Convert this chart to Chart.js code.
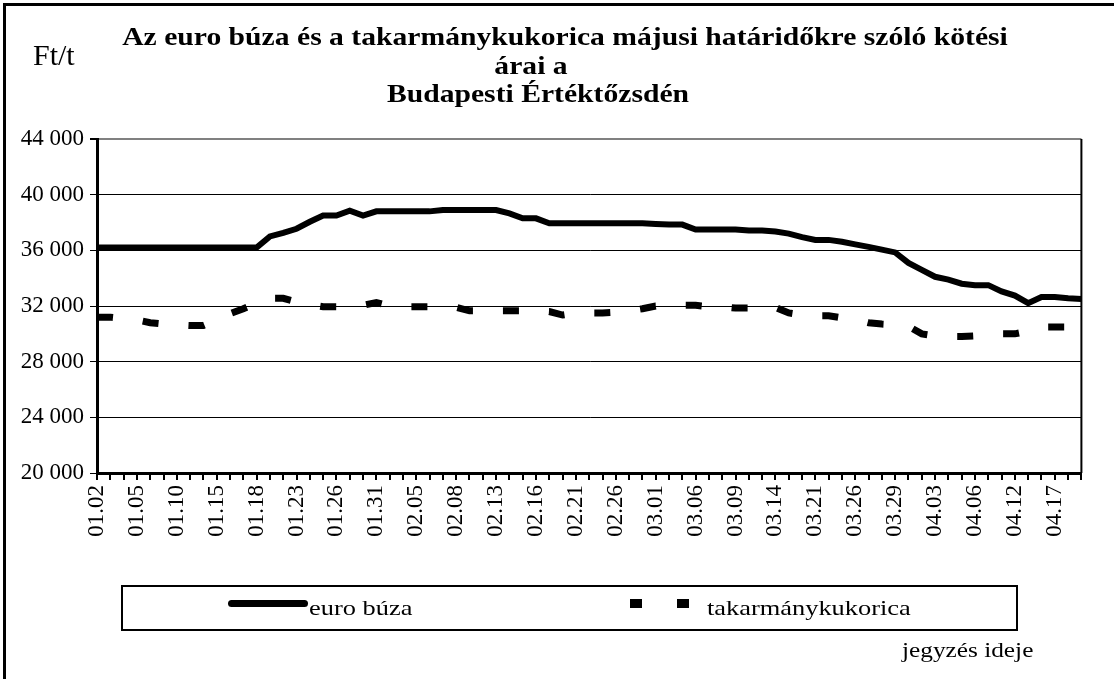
<!DOCTYPE html>
<html lang="hu">
<head>
<meta charset="utf-8">
<title>Euro búza és takarmánykukorica</title>
<script src="https://cdn.jsdelivr.net/npm/chart.js@4.4.1/dist/chart.umd.min.js"></script>
<style>
  html, body { margin: 0; padding: 0; background: #fff; }
  body { width: 1114px; height: 679px; position: relative; overflow: hidden; font-family: "Liberation Serif", "Times New Roman", serif; color: #000; }
  #keret { position: absolute; left: 3px; top: 3px; width: 1200px; height: 800px; border-left: 3px solid #000; border-top: 3px solid #000; }
  #grafikon { position: absolute; left: 0; top: 0; }
  .szoveg { position: absolute; white-space: nowrap; }
  .cimsor { position: absolute; width: 1000px; text-align: center; font-weight: bold; font-size: 26px; line-height: 28px; transform: scaleX(1.14); white-space: nowrap; }
  #egyseg { left: 33px; top: 38px; font-size: 30px; line-height: 34px; }
  #jelmagyarazat { position: absolute; left: 121px; top: 585px; width: 893px; height: 42px; border: 2px solid #000; }
  .minta { position: absolute; background: #000; }
  .felirat { position: absolute; top: 8px; font-size: 22px; line-height: 26px; transform: scaleX(1.2); transform-origin: left center; }
  #ido { left: 902px; top: 637px; font-size: 22px; line-height: 26px; transform: scaleX(1.15); transform-origin: left center; }
</style>
</head>
<body>
<div id="keret"></div>
<canvas id="grafikon" width="1114" height="679"></canvas>
<div id="cim"></div>
<div class="szoveg" id="egyseg">Ft/t</div>
<div id="jelmagyarazat"></div>
<div class="szoveg" id="ido">jegyzés ideje</div>

<script>
// Adatok
const cimSorok = [
  "Az euro búza és a takarmánykukorica májusi határidőkre szóló kötési",
  "árai a",
  "Budapesti Értéktőzsdén"
];
const cimKozepek = [565, 531, 538]; // az egyes sorok közepe (px)

const sorozatNevek = ["euro búza", "takarmánykukorica"];

const datumok = [
  "01.02", "01.03", "01.04", "01.05", "01.08", "01.09", "01.10", "01.11", "01.12", "01.15",
  "01.16", "01.17", "01.18", "01.19", "01.22", "01.23", "01.24", "01.25", "01.26", "01.29",
  "01.30", "01.31", "02.01", "02.02", "02.05", "02.06", "02.07", "02.08", "02.09", "02.12",
  "02.13", "02.14", "02.15", "02.16", "02.19", "02.20", "02.21", "02.22", "02.23", "02.26",
  "02.27", "02.28", "03.01", "03.02", "03.05", "03.06", "03.07", "03.08", "03.09", "03.12",
  "03.13", "03.14", "03.19", "03.20", "03.21", "03.22", "03.23", "03.26", "03.27", "03.28",
  "03.29", "03.30", "04.02", "04.03", "04.04", "04.05", "04.06", "04.09", "04.11", "04.12",
  "04.13", "04.16", "04.17", "04.18", "04.19"
];

const euroBuza = [
  36200, 36200, 36200, 36200, 36200, 36200, 36200, 36200, 36200, 36200,
  36200, 36200, 36200, 37000, 37250, 37550, 38050, 38500, 38500, 38850,
  38500, 38800, 38800, 38800, 38800, 38800, 38900, 38900, 38900, 38900,
  38900, 38650, 38300, 38300, 37950, 37950, 37950, 37950, 37950, 37950,
  37950, 37950, 37900, 37850, 37850, 37500, 37500, 37500, 37500, 37420,
  37420, 37350, 37200, 36950, 36750, 36750, 36620, 36430, 36250, 36050,
  35850, 35100, 34600, 34100, 33900, 33600, 33500, 33500, 33050, 32750,
  32200, 32650, 32650, 32550, 32500
];

const takarmanyKukorica = [
  31200, 31200, 31100, 31000, 30800, 30700, 30650, 30600, 30600, 31000,
  31450, 31800, 32200, 32550, 32550, 32300, 32100, 31950, 31950, 32000,
  32050, 32250, 32000, 31950, 31950, 31950, 31950, 31900, 31650, 31650,
  31650, 31650, 31650, 31650, 31600, 31350, 31500, 31500, 31500, 31550,
  31650, 31800, 32000, 32050, 32050, 32050, 31950, 31950, 31850, 31850,
  31900, 31900, 31500, 31350, 31300, 31300, 31150, 31050, 30800, 30700,
  30650, 30550, 30000, 29850, 29800, 29800, 29850, 29950, 30000, 30000,
  30200, 30500, 30500, 30500, 30500
];

const yMin = 20000;
const yMax = 44000;
const yLepes = 4000;
const cimkeLepes = 3; // minden harmadik dátum látszik

// Cím, soronként
const cimDiv = document.getElementById("cim");
cimSorok.forEach((sor, i) => {
  const d = document.createElement("div");
  d.className = "cimsor";
  d.style.left = (cimKozepek[i] - 500) + "px";
  d.style.top = (23 + i * 28.5) + "px";
  d.textContent = sor;
  cimDiv.appendChild(d);
});

// Jelmagyarázat (kézzel, az Excel-es dobozhoz hasonlóan)
const jm = document.getElementById("jelmagyarazat");
jm.innerHTML = `
  <div class="minta" style="left:105px;top:13px;width:80px;height:7px;border-radius:4px;"></div>
  <div class="felirat" style="left:186px;">${sorozatNevek[0]}</div>
  <div class="minta" style="left:507px;top:12px;width:12px;height:9px;"></div>
  <div class="minta" style="left:554px;top:12px;width:12px;height:9px;"></div>
  <div class="felirat" style="left:584px;">${sorozatNevek[1]}</div>
`;

// Jobb oldali keret a rajzterületnek
const rajzKeret = {
  id: "rajzKeret",
  afterDraw(chart) {
    const { ctx, chartArea } = chart;
    ctx.save();
    ctx.strokeStyle = "#000";
    ctx.lineWidth = 2;
    ctx.beginPath();
    ctx.moveTo(chartArea.right, chartArea.top);
    ctx.lineTo(chartArea.right, chartArea.bottom);
    ctx.stroke();
    ctx.restore();
  }
};

const ezres = (v) => String(v).replace(/\B(?=(\d{3})+(?!\d))/g, " ");

new Chart(document.getElementById("grafikon"), {
  type: "line",
  data: {
    labels: datumok,
    datasets: [
      {
        label: sorozatNevek[0],
        data: euroBuza,
        borderColor: "#000",
        borderWidth: 6,
        pointRadius: 0,
        tension: 0,
        fill: false
      },
      {
        label: sorozatNevek[1],
        data: takarmanyKukorica,
        borderColor: "#000",
        borderWidth: 7,
        borderDash: [16, 30],
        borderCapStyle: "butt",
        pointRadius: 0,
        tension: 0,
        fill: false
      }
    ]
  },
  options: {
    responsive: false,
    devicePixelRatio: 1,
    animation: false,
    layout: { padding: { left: 0, top: 139, right: 26, bottom: 0 } },
    plugins: {
      legend: { display: false },
      title: { display: false },
      tooltip: { enabled: false }
    },
    scales: {
      x: {
        offset: false,
        afterFit: (scale) => { scale.height = 206; },
        border: { display: true, color: "#000", width: 3 },
        grid: {
          drawOnChartArea: false,
          drawTicks: true,
          tickLength: 7,
          color: "#000",
          lineWidth: 2
        },
        ticks: {
          autoSkip: false,
          minRotation: 90,
          maxRotation: 90,
          padding: 5,
          color: "#000",
          font: { family: "Liberation Serif", size: 23 },
          callback: function (value, index) {
            return index % cimkeLepes === 0 ? this.getLabelForValue(value) : "";
          }
        }
      },
      y: {
        min: yMin,
        max: yMax,
        afterFit: (scale) => { scale.width = 97; },
        border: { display: true, color: "#000", width: 3 },
        grid: {
          color: (c) => (c.tick && c.tick.value === yMax ? "#808080" : "#000"),
          lineWidth: (c) => (c.tick && c.tick.value === yMax ? 2 : 1),
          tickColor: "#000",
          tickLength: 7
        },
        ticks: {
          stepSize: yLepes,
          padding: 6,
          color: "#000",
          font: { family: "Liberation Serif", size: 23 },
          callback: (v) => ezres(v)
        }
      }
    }
  },
  plugins: [rajzKeret]
});
</script>
</body>
</html>
